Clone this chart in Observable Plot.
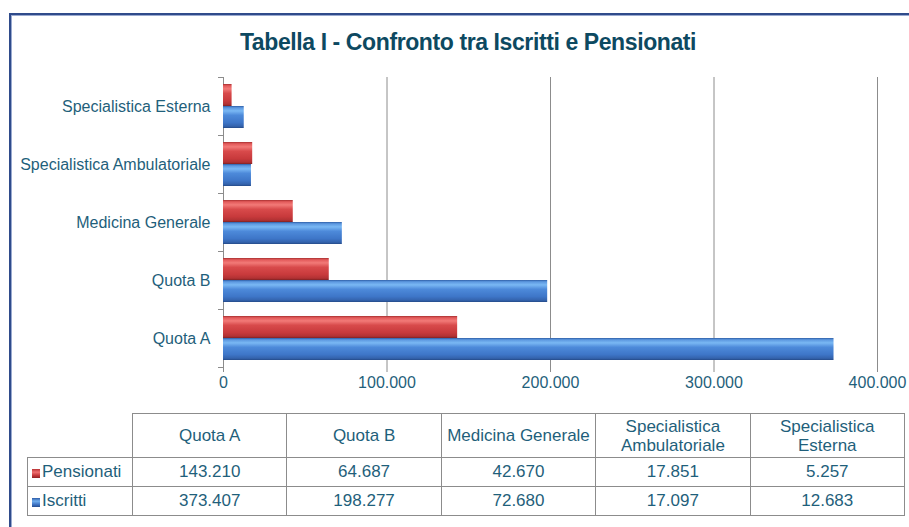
<!DOCTYPE html>
<html><head><meta charset="utf-8">
<script src="https://cdn.jsdelivr.net/npm/d3@7"></script>
<script src="https://cdn.jsdelivr.net/npm/@observablehq/plot@0.6"></script>
<style>
html,body{margin:0;padding:0;background:#fff;overflow:hidden;}
body{width:909px;height:527px;position:relative;font-family:"Liberation Sans",Arial,sans-serif;}
#frame{position:absolute;left:9px;top:13px;width:960px;height:560px;border-left:2px solid #2f4b8b;border-top:2px solid #2f4b8b;box-shadow:inset 1px 1px 0 #9aaad0;}
#title{position:absolute;left:0;top:29px;width:936px;text-align:center;font-weight:bold;font-size:23px;line-height:26px;letter-spacing:-0.4px;color:#0d4961;}
#chart{position:absolute;left:0;top:60px;}
#tbl{position:absolute;left:27px;top:413px;width:878px;border-collapse:collapse;table-layout:fixed;color:#1f5f7b;font-size:17px;}
#tbl th,#tbl td{border:1px solid #8c8c8c;padding:0 2px;text-align:center;font-weight:normal;}
#tbl thead th{height:43px;line-height:19px;}
#tbl tbody td{height:28px;line-height:20px;}
#tbl th.corner{border-top:none;border-left:none;}
#tbl td.lab{text-align:left;padding-left:4px;white-space:nowrap;}
.sw{display:inline-block;width:8px;height:9px;margin-right:2px;vertical-align:-1px;}
</style>
</head>
<body>
<div id="frame"></div>
<div id="title">Tabella I - Confronto tra Iscritti e Pensionati</div>
<div id="chart"></div>
<table id="tbl"></table>
<script>
const categories = ["Quota A", "Quota B", "Medicina Generale", "Specialistica Ambulatoriale", "Specialistica Esterna"];
const pensionati = [143210, 64687, 42670, 17851, 5257];
const iscritti = [373407, 198277, 72680, 17097, 12683];
const seriesNames = ["Pensionati", "Iscritti"];
const xTicks = [0, 100000, 200000, 300000, 400000];

const fmt = d3.formatLocale({decimal: ",", thousands: ".", grouping: [3], currency: ["€", ""]}).format(",d");
const data = categories.flatMap((c, i) => [
  {category: c, series: "Pensionati", value: pensionati[i]},
  {category: c, series: "Iscritti", value: iscritti[i]}
]);

const W = 909, H = 340, ML = 223, MR = 32, MT = 16, MB = 32;
const gray = "#8c8c8c", textColor = "#1f5f7b";

const chart = Plot.plot({
  width: W, height: H, marginLeft: ML, marginRight: MR, marginTop: MT, marginBottom: MB,
  style: {fontFamily: "Liberation Sans, Arial, sans-serif", background: "transparent", overflow: "visible"},
  x: {domain: [0, 400000], axis: null},
  y: {domain: seriesNames, axis: null, paddingInner: 0, paddingOuter: 0.27},
  fy: {domain: categories.slice().reverse(), axis: null, padding: 0},
  marks: [
    Plot.gridX(xTicks.slice(1), {stroke: gray, strokeOpacity: 1}),
    Plot.ruleX([0], {stroke: gray}),
    Plot.frame({anchor: "top", stroke: gray, insetLeft: -5, insetRight: W - ML - MR}),
    Plot.frame({anchor: "bottom", stroke: gray, insetLeft: -5, insetRight: W - ML - MR}),
    Plot.barX(data.filter(d => d.series === "Pensionati"), {x: "value", y: "series", fy: "category", fill: "url(#gradRed)"}),
    Plot.barX(data.filter(d => d.series === "Iscritti"), {x: "value", y: "series", fy: "category", fill: "url(#gradBlue)"}),
    Plot.axisX({anchor: "bottom", ticks: xTicks, tickFormat: fmt, tickSize: 5, tickPadding: 4, fontSize: 16, fill: textColor, stroke: gray, line: true, label: null}),
    Plot.axisFy({anchor: "left", tickSize: 0, tickPadding: 13, fontSize: 16, fill: textColor, label: null})
  ]
});

const svg = d3.select(chart);
const defs = svg.insert("defs", ":first-child");
function grad(id, stops) {
  const g = defs.append("linearGradient").attr("id", id).attr("x1", 0).attr("y1", 0).attr("x2", 0).attr("y2", 1);
  stops.forEach(([o, c]) => g.append("stop").attr("offset", o).attr("stop-color", c));
}
grad("gradRed", [[0, "#a72f30"], [0.08, "#e35a5a"], [0.22, "#f27a78"], [0.42, "#d84a4b"], [0.75, "#c83a3c"], [0.92, "#b13133"], [1, "#7f2123"]]);
grad("gradBlue", [[0, "#2f5ea6"], [0.08, "#5c98e0"], [0.22, "#7ab8f4"], [0.42, "#4d8ada"], [0.75, "#3e76c8"], [0.92, "#3463ad"], [1, "#244a88"]]);
document.getElementById("chart").appendChild(chart);

// data table
const swatch = {
  Pensionati: "linear-gradient(to bottom,#b83234,#f07070 35%,#c03436 75%,#8e2224)",
  Iscritti: "linear-gradient(to bottom,#2e5ca8,#70aeee 35%,#3a6fc0 75%,#264d8e)"
};
const tbl = d3.select("#tbl");
const cg = tbl.append("colgroup");
cg.append("col").style("width", "105px");
categories.forEach(() => cg.append("col"));
const hr = tbl.append("thead").append("tr");
hr.append("th").attr("class", "corner");
categories.forEach(c => hr.append("th").text(c));
const tb = tbl.append("tbody");
[["Pensionati", pensionati], ["Iscritti", iscritti]].forEach(([name, vals]) => {
  const tr = tb.append("tr");
  const lab = tr.append("td").attr("class", "lab");
  lab.append("span").attr("class", "sw").style("background", swatch[name]);
  lab.append("span").text(name);
  vals.forEach(v => tr.append("td").text(fmt(v)));
});
</script>
</body></html>
